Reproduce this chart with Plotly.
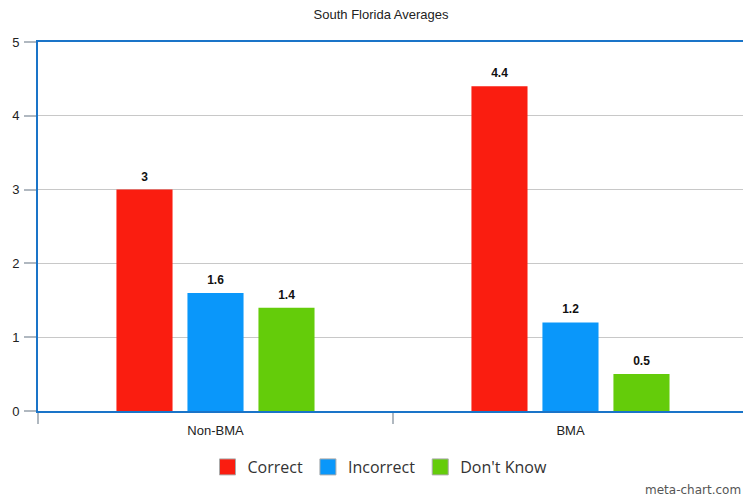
import plotly.graph_objects as go

categories = ["Non-BMA", "BMA"]
correct = [3, 4.4]
incorrect = [1.6, 1.2]
dont_know = [1.4, 0.5]
series_names = ["Correct", "Incorrect", "Don't Know"]
colors = ["#fa1d10", "#0a97fa", "#64cc0a"]
all_series = [correct, incorrect, dont_know]

fig = go.Figure()
for name, vals, col in zip(series_names, all_series, colors):
    fig.add_trace(go.Bar(
        x=categories, y=vals, name=name, showlegend=False,
        marker=dict(color=col, line=dict(width=0)),
        offsetgroup=name,
    ))
# value labels (invisible markers used to lift the text a bit above the bar)
for name, vals in zip(series_names, all_series):
    fig.add_trace(go.Scatter(
        x=categories, y=vals, mode="markers+text", showlegend=False,
        offsetgroup=name, hoverinfo="skip",
        marker=dict(size=8, color="rgba(0,0,0,0)"),
        text=[f"<b>{v:g}</b>" for v in vals], textposition="top center",
        textfont=dict(family="Liberation Sans, Arial", size=12, color="#111"),
        cliponaxis=False,
    ))
# legend entries with larger square swatches
for name, col in zip(series_names, colors):
    fig.add_trace(go.Scatter(
        x=[None], y=[None], mode="markers", name=name,
        marker=dict(symbol="square", size=16, color=col,
                    line=dict(color="#aaaaaa", width=1)),
    ))

fig.update_layout(
    width=743, height=496,
    margin=dict(l=38, r=0, t=42, b=85),
    paper_bgcolor="white", plot_bgcolor="white",
    barmode="group", bargap=0.4, bargroupgap=0.21,
    scattermode="group", scattergap=0.4,
    title=dict(text="South Florida Averages", x=381/743, xref="container", xanchor="center",
               y=1 - 14/496, yanchor="middle",
               font=dict(family="Liberation Sans, Arial", size=13, color="#222")),
    font=dict(family="Liberation Sans, Arial", size=13, color="#222"),
    showlegend=True,
    legend=dict(orientation="h", x=(380-38)/705, xanchor="center",
                y=(411-467)/369, yanchor="middle",
                font=dict(family="Open Sans, DejaVu Sans", size=16, color="#333"),
                itemsizing="trace", traceorder="normal"),
    xaxis=dict(range=[-0.5, 1.486], tickson="boundaries", ticks="outside",
               ticklen=11, tickcolor="#b0b8c0", tickwidth=2,
               showline=True, linecolor="#1a74c8", linewidth=2, mirror=True,
               showgrid=False, ticklabelstandoff=6,
               tickfont=dict(size=13, color="#222")),
    yaxis=dict(range=[0, 5], dtick=1, ticks="outside", ticklen=12,
               tickcolor="#b0b8c0", tickwidth=2,
               showline=True, linecolor="#1a74c8", linewidth=2,
               showgrid=True, gridcolor="#c8c8c8", gridwidth=1,
               zeroline=False, ticklabelstandoff=2,
               tickfont=dict(size=13, color="#222")),
)

fig.add_annotation(text="meta-chart.com", xref="paper", yref="paper",
                   x=1, y=(411-490)/369, xanchor="right", yanchor="middle",
                   showarrow=False,
                   font=dict(family="DejaVu Sans", size=12, color="#555"))

fig.write_html("out.html")
